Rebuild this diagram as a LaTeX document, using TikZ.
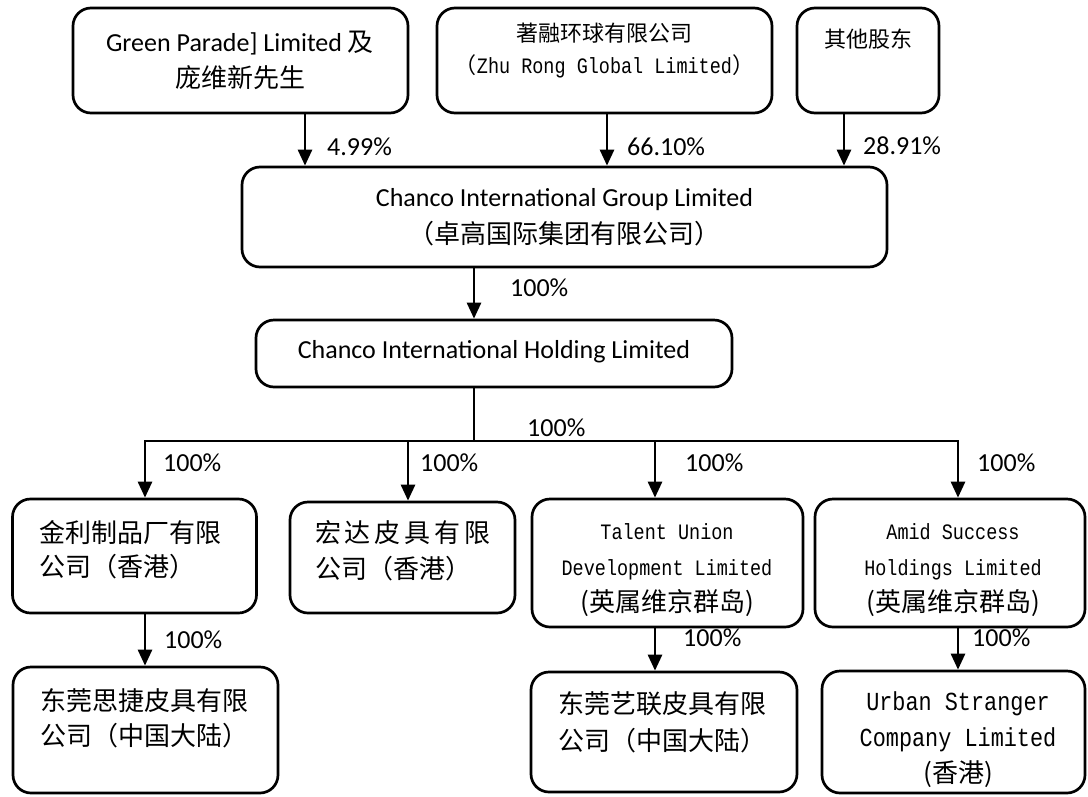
\documentclass[tikz,border=0pt]{standalone}
\usepackage{fontspec}
\setmainfont{Carlito}
\newfontfamily\cjk{Noto Sans CJK SC}
\newfontfamily\mono[FakeStretch=0.84]{Liberation Mono}
\newcommand{\zh}[1]{{\cjk #1}}
\usepackage{tikz}
\usetikzlibrary{arrows.meta}

\begin{document}
\begin{tikzpicture}[x=1pt, y=-1pt,
    box/.style={draw, line width=2.7pt, rounded corners=18pt, inner sep=0pt},
    link/.style={line width=2.7pt, -{Triangle[width=14pt,length=16pt]}},
    wire/.style={line width=2.7pt, line cap=rect},
    pct/.style={anchor=west, inner sep=0pt, font=\fontsize{26}{30}\selectfont},
    txt/.style={inner sep=0pt, align=center},
    ltxt/.style={inner sep=0pt, align=left, anchor=west}]
    \useasboundingbox (0,0) rectangle (1088,796);

    % Shareholders
    \node[box, minimum width=335pt, minimum height=105pt] (gp) at (240.5,60.5) {};
    \node[box, minimum width=335pt, minimum height=105pt] (zr) at (604.5,60.5) {};
    \node[box, minimum width=142pt, minimum height=105pt] (qt) at (868,60.5) {};
    \node[txt, font=\fontsize{26}{36}\selectfont] (gp-t) at (240,60) {Green Parade] Limited \zh{及}\\\zh{庞维新先生}};
    \node[txt, font=\fontsize{22}{32}\selectfont] (zr-t) at (604.5,51) {\zh{著融环球有限公司}\\\zh{（}{\mono\fontsize{22}{32}\selectfont Zhu Rong Global Limited}\zh{）}};
    \node[txt, font=\cjk\fontsize{22}{32}\selectfont] (qt-t) at (868,39) {其他股东};

    % Group and holding company
    \node[box, minimum width=645pt, minimum height=100pt] (cg) at (564.5,217) {};
    \node[txt, font=\fontsize{26}{37}\selectfont] (cg-t) at (564.5,217.5) {Chanco International Group Limited\\{\cjk （卓高国际集团有限公司）}};
    \node[box, minimum width=476pt, minimum height=67pt] (ch) at (494,353.5) {};
    \node[txt, font=\fontsize{26}{30}\selectfont] (ch-t) at (494,352) {Chanco International Holding Limited};

    % Subsidiaries
    \node[box, minimum width=244pt, minimum height=114pt] (jl) at (134.5,556) {};
    \node[box, minimum width=225pt, minimum height=111pt] (hd) at (402.5,557.5) {};
    \node[box, minimum width=271pt, minimum height=128pt] (tu) at (667.5,563) {};
    \node[box, minimum width=270pt, minimum height=128pt] (as) at (950,563) {};
    \node[ltxt, font=\cjk\fontsize{26}{34}\selectfont] (jl-t) at (39,550) {金利制品厂有限\\公司（香港）};
    \node[ltxt, font=\cjk\fontsize{26}{36}\selectfont] (hd-t) at (315,551) {宏\kern3.8pt 达\kern3.8pt 皮\kern3.8pt 具\kern3.8pt 有\kern3.8pt 限\\公司（香港）};
    \node[txt, font=\mono\fontsize{22}{36}\selectfont] (tu-t) at (667,570) {Talent Union\\Development Limited\\{\cjk\fontsize{26}{36}\selectfont (英属维京群岛)}};
    \node[txt, font=\mono\fontsize{22}{36}\selectfont] (as-t) at (953,570) {Amid Success\\Holdings Limited\\{\cjk\fontsize{26}{36}\selectfont (英属维京群岛)}};

    % Second level subsidiaries
    \node[box, minimum width=265pt, minimum height=126pt] (sj) at (145.5,730) {};
    \node[box, minimum width=266pt, minimum height=120pt] (yl) at (664,732) {};
    \node[box, minimum width=263pt, minimum height=122pt] (us) at (953.5,732) {};
    \node[ltxt, font=\cjk\fontsize{26}{35}\selectfont] (sj-t) at (40,718.5) {东莞思捷皮具有限\\公司（中国大陆）};
    \node[ltxt, font=\cjk\fontsize{26}{37}\selectfont] (yl-t) at (558,722) {东莞艺联皮具有限\\公司（中国大陆）};
    \node[txt, font=\mono\fontsize{26}{36}\selectfont] (us-t) at (958,740) {Urban Stranger\\Company Limited\\{\cjk\fontsize{26}{36}\selectfont (香港)}};

    % x positions of the connectors
    \coordinate (x1) at (305,0);
    \coordinate (x2) at (607,0);
    \coordinate (x3) at (844,0);
    \coordinate (x4) at (474,0);
    \coordinate (bus) at (474,441);
    \coordinate (d1) at (145,441);
    \coordinate (d2) at (408,441);
    \coordinate (d3) at (655,441);
    \coordinate (d4) at (958,441);

    % shares in the group
    \draw[link] (gp.south -| x1) -- (cg.north -| x1);
    \draw[link] (zr.south -| x2) -- (cg.north -| x2);
    \draw[link] (qt.south -| x3) -- (cg.north -| x3);
    \node[pct] (p1) at (327,147) {4.99\%};
    \node[pct] (p2) at (627,147) {66.10\%};
    \node[pct] (p3) at (863,146) {28.91\%};

    \draw[link] (cg.south -| x4) -- (ch.north -| x4);
    \node[pct] (p4) at (510,288) {100\%};

    % bus to the subsidiaries
    \draw[wire] (ch.south -| bus) -- (bus);
    \draw[wire] (d1) -- (d4);
    \node[pct] (p5) at (527,428) {100\%};
    \draw[link] (d1) -- (jl.north -| d1);
    \draw[link] (d2) -- (hd.north -| d2);
    \draw[link] (d3) -- (tu.north -| d3);
    \draw[link] (d4) -- (as.north -| d4);
    \node[pct] (p6) at (163,463) {100\%};
    \node[pct] (p7) at (420,463) {100\%};
    \node[pct] (p8) at (685,463) {100\%};
    \node[pct] (p9) at (977,463) {100\%};

    \draw[link] (jl.south -| d1) -- (sj.north -| d1);
    \draw[link] (tu.south -| d3) -- (yl.north -| d3);
    \draw[link] (as.south -| d4) -- (us.north -| d4);
    \node[pct] (p10) at (164,640) {100\%};
    \node[pct] (p11) at (683,638) {100\%};
    \node[pct] (p12) at (972,638) {100\%};
\end{tikzpicture}
\end{document}
